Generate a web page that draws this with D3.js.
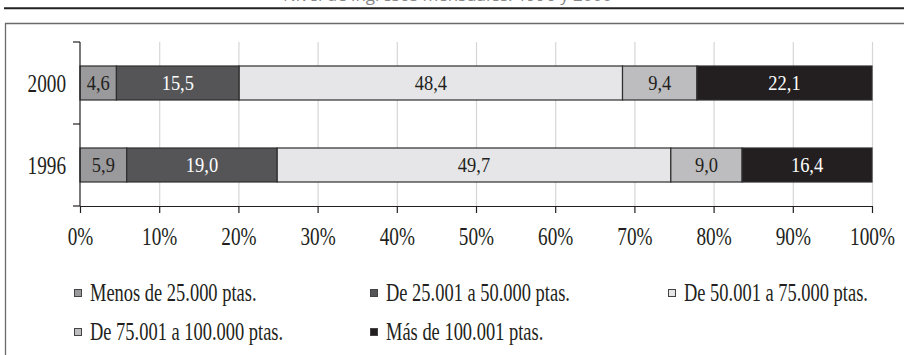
<!DOCTYPE html>
<html>
<head>
<meta charset="utf-8">
<script src="https://cdn.jsdelivr.net/npm/d3@7"></script>
<style>
  html, body { margin: 0; padding: 0; background: #fff; }
  svg { display: block; }
</style>
</head>
<body>
<svg id="chart" width="904" height="355"></svg>
<script>
// ---- data ----
const categories = ["2000", "1996"];
const seriesNames = [
  "Menos de 25.000 ptas.",
  "De 25.001 a 50.000 ptas.",
  "De 50.001 a 75.000 ptas.",
  "De 75.001 a 100.000 ptas.",
  "Más de 100.001 ptas."
];
const values2000 = [4.6, 15.5, 48.4, 9.4, 22.1];
const values1996 = [5.9, 19.0, 49.7, 9.0, 16.4];
const tickValues = [0, 10, 20, 30, 40, 50, 60, 70, 80, 90, 100];
const titleText = "Nivel de ingresos mensuales. 1996 y 2000";

// ---- styles ----
const colors = ["#9a9a9c", "#555558", "#e6e6e8", "#bdbdbf", "#231f20"];
const labelColors = ["#231f20", "#ffffff", "#231f20", "#231f20", "#ffffff"];
const serif = "'Liberation Serif', 'Times New Roman', serif";
const condense = 0.74;

const svg = d3.select("#chart");

// title (cut off at top, as in the reference)
svg.append("text")
  .attr("x", 612).attr("y", 1)
  .attr("text-anchor", "end")
  .attr("font-family", "'Open Sans', sans-serif")
  .attr("font-size", 17)
  .attr("fill", "#888")
  .text(titleText);

// top rule
svg.append("line").attr("x1", 4).attr("x2", 904).attr("y1", 8.3).attr("y2", 8.3)
  .attr("stroke", "#222").attr("stroke-width", 2);

// frame
svg.append("path").attr("d", "M5.5,355 V23.5 H904")
  .attr("fill", "none").attr("stroke", "#6a6a6a").attr("stroke-width", 1.3);

// scales
const x = d3.scaleLinear().domain([0, 100]).range([80, 872]);
const y = d3.scaleBand().domain(categories).range([42, 206]).paddingInner(0).paddingOuter(0);
const barH = 34;

// gridlines
svg.append("g").selectAll("line").data(tickValues.filter(d => d > 0)).join("line")
  .attr("x1", d => x(d) + 0.5).attr("x2", d => x(d) + 0.5)
  .attr("y1", 42).attr("y2", 206)
  .attr("stroke", "#d6d6d6").attr("stroke-width", 1.2);

// stacked data
const rows = categories.map(c => {
  const vals = c === "2000" ? values2000 : values1996;
  let acc = 0;
  return vals.map((v, i) => {
    const seg = { cat: c, i, v, x0: acc, x1: acc + v };
    acc += v;
    return seg;
  });
}).flat();

const fmt = v => d3.format(".1f")(v).replace(".", ",");

// bars
svg.append("g").selectAll("rect").data(rows).join("rect")
  .attr("x", d => x(d.x0))
  .attr("width", d => x(d.x1) - x(d.x0))
  .attr("y", d => y(d.cat) + y.bandwidth() / 2 - barH / 2)
  .attr("height", barH)
  .attr("fill", d => colors[d.i])
  .attr("stroke", "#2e2e2e")
  .attr("stroke-width", 1.2);

// bar labels
svg.append("g").selectAll("text").data(rows).join("text")
  .attr("transform", d => `translate(${(x(d.x0) + x(d.x1)) / 2},${y(d.cat) + y.bandwidth() / 2}) scale(0.84,1)`)
  .attr("dy", "0.3em")
  .attr("text-anchor", "middle")
  .attr("font-family", serif)
  .attr("font-size", 22)
  .attr("fill", d => labelColors[d.i])
  .text(d => fmt(d.v));

// x axis
const xAxis = d3.axisBottom(x).tickValues(tickValues).tickSize(7).tickSizeOuter(0)
  .tickFormat(d => d + "%");
const gx = svg.append("g").attr("transform", "translate(0,206)").call(xAxis);
gx.select(".domain").attr("stroke", "#231f20").attr("stroke-width", 1.2);
gx.selectAll(".tick line").attr("stroke", "#231f20").attr("stroke-width", 1.2);
gx.selectAll(".tick text")
  .attr("y", 39.5).attr("dy", 0)
  .attr("transform", `scale(${condense},1)`)
  .attr("font-family", serif).attr("font-size", 26).attr("fill", "#231f20");

// y axis line + boundary ticks
svg.append("line").attr("x1", 80).attr("x2", 80).attr("y1", 42).attr("y2", 206)
  .attr("stroke", "#231f20").attr("stroke-width", 1.2);
const bounds = [y(categories[0]), y(categories[1]), y(categories[1]) + y.bandwidth()];
svg.append("g").selectAll("line").data(bounds).join("line")
  .attr("x1", 73).attr("x2", 80).attr("y1", d => d).attr("y2", d => d)
  .attr("stroke", "#231f20").attr("stroke-width", 1.2);

// y labels
svg.append("g").selectAll("text").data(categories).join("text")
  .attr("transform", d => `translate(66,${y(d) + y.bandwidth() / 2}) scale(${condense},1)`)
  .attr("dy", "0.33em")
  .attr("text-anchor", "end")
  .attr("font-family", serif).attr("font-size", 26).attr("fill", "#231f20")
  .text(d => d);

// legend
const legendPos = [
  { mx: 74, ty: 301 }, { mx: 370, ty: 301 }, { mx: 668, ty: 301 },
  { mx: 74, ty: 340 }, { mx: 370, ty: 340 }
];
const lg = svg.append("g").selectAll("g").data(seriesNames).join("g")
  .attr("transform", (d, i) => `translate(${legendPos[i].mx},${legendPos[i].ty})`);
lg.append("rect")
  .attr("x", 0.5).attr("y", -11.5).attr("width", 7).attr("height", 7)
  .attr("fill", (d, i) => colors[i]).attr("stroke", "#444").attr("stroke-width", 1);
lg.append("text")
  .attr("transform", `translate(16,0) scale(0.71,1)`)
  .attr("font-family", serif).attr("font-size", 26).attr("fill", "#231f20")
  .text(d => d);
</script>
</body>
</html>
